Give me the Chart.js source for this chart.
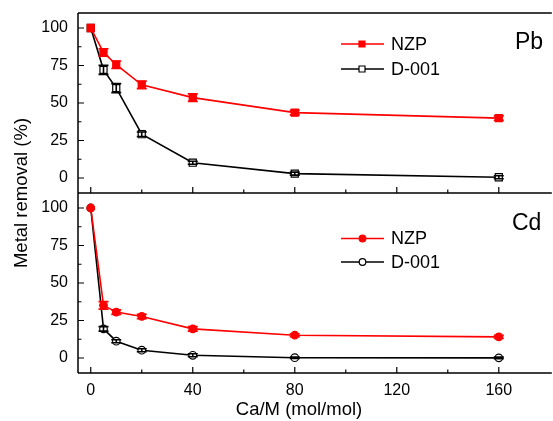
<!DOCTYPE html>
<html><head><meta charset="utf-8">
<script src="https://cdn.jsdelivr.net/npm/chart.js@4/dist/chart.umd.min.js"></script>
<style>html,body{margin:0;padding:0;background:#fff;overflow:hidden;}#wrap{width:556px;height:421px;}</style>
</head><body><div id="wrap"><canvas id="c" width="556" height="421"></canvas></div>
<script>
// ---- data ----
const caM = [0, 5, 10, 20, 40, 80, 160];
const pbNZP = [100, 83.7, 75.5, 62.1, 53.6, 43.6, 39.9];
const pbNZPerr = [0, 2.5, 2.5, 2.5, 2.5, 1.5, 1.5];
const pbD001 = [100, 72.1, 59.9, 29.2, 10.2, 2.9, 0.5];
const pbD001err = [0, 3, 3, 1.5, 1, 1, 1];
const cdNZP = [100, 35.1, 30.6, 27.7, 19.4, 15.2, 14.1];
const cdNZPerr = [0, 2.5, 1.5, 1.5, 1.5, 1, 1];
const cdD001 = [100, 19.4, 11.2, 5.2, 1.8, 0.2, 0.1];
const cdD001err = [0, 1.5, 1, 1, 1, 0.5, 0.5];
const xTicks = [0, 40, 80, 120, 160];
const xMinor = [20, 60, 100, 140];
const yTicks = [0, 25, 50, 75, 100];
const yMinor = [12.5, 37.5, 62.5, 87.5];
const seriesNames = ['NZP', 'D-001'];
const panelNames = ['Pb', 'Cd'];
const xTitle = 'Ca/M (mol/mol)';
const yTitle = 'Metal removal (%)';

const RED = '#ff0000', BLACK = '#000000';
const FONT = '"Liberation Sans", Arial, sans-serif';

function pts(ys) { return caM.map((x, i) => ({x: x, y: ys[i]})); }
function ds(label, ys, errs, axis, color, style, filled) {
  return {
    label: label, data: pts(ys), errs: errs, yAxisID: axis,
    borderColor: color, borderWidth: 1.6, tension: 0,
    pointStyle: style, pointRadius: style === 'rect' ? 5 : 3.8,
    pointBackgroundColor: filled ? color : '#ffffff',
    pointBorderColor: color, pointBorderWidth: 1.2, fill: false
  };
}

const yScale = () => ({
  type: 'linear', stack: 'v', min: -10, max: 110,
  afterBuildTicks: s => { s.ticks = yTicks.map(v => ({value: v})); },
  afterFit: s => { s.width = 78; },
  grid: {display: false}, border: {display: false},
  ticks: {font: {family: FONT, size: 16}, color: '#000', padding: 2}
});

const errPlugin = {
  id: 'errs',
  afterDatasetsDraw(chart) {
    const ctx = chart.ctx, xs = chart.scales.x;
    chart.data.datasets.forEach(d => {
      const ys = chart.scales[d.yAxisID];
      ctx.save();
      ctx.strokeStyle = d.borderColor; ctx.lineWidth = 1.6;
      d.data.forEach((p, i) => {
        const e = d.errs[i]; if (!e) return;
        const px = xs.getPixelForValue(p.x);
        const y1 = ys.getPixelForValue(p.y + e), y2 = ys.getPixelForValue(p.y - e);
        ctx.beginPath();
        ctx.moveTo(px, y1); ctx.lineTo(px, y2);
        ctx.moveTo(px - 5, y1); ctx.lineTo(px + 5, y1);
        ctx.moveTo(px - 5, y2); ctx.lineTo(px + 5, y2);
        ctx.stroke();
      });
      ctx.restore();
    });
  }
};

const framePlugin = {
  id: 'frame',
  afterDraw(chart) {
    const ctx = chart.ctx, a = chart.chartArea, xs = chart.scales.x;
    const sp = chart.scales.yPb, sc = chart.scales.yCd;
    const top = Math.min(sp.top, sc.top), mid = Math.min(sp.bottom, sc.bottom);
    ctx.save();
    ctx.strokeStyle = '#000'; ctx.lineWidth = 1.5;
    ctx.beginPath();
    ctx.moveTo(a.left, top); ctx.lineTo(a.right + 2, top);
    ctx.moveTo(a.left, mid); ctx.lineTo(a.right + 2, mid);
    ctx.moveTo(a.left, a.bottom); ctx.lineTo(a.right + 2, a.bottom);
    ctx.moveTo(a.left, top); ctx.lineTo(a.left, a.bottom);
    ctx.stroke();
    // inward ticks
    ctx.lineWidth = 1.2;
    ctx.beginPath();
    [sp, sc].forEach(s => {
      xTicks.forEach(v => { const px = xs.getPixelForValue(v); ctx.moveTo(px, s.bottom); ctx.lineTo(px, s.bottom - 6); });
      xMinor.forEach(v => { const px = xs.getPixelForValue(v); ctx.moveTo(px, s.bottom); ctx.lineTo(px, s.bottom - 3.5); });
      yTicks.forEach(v => { const py = s.getPixelForValue(v); ctx.moveTo(a.left, py); ctx.lineTo(a.left + 6, py); });
      yMinor.forEach(v => { const py = s.getPixelForValue(v); ctx.moveTo(a.left, py); ctx.lineTo(a.left + 3.5, py); });
    });
    ctx.stroke();
    // legends
    const panels = [[sp, 'rect'], [sc, 'circle']];
    panels.forEach((pp, k) => {
      const s = pp[0], style = pp[1];
      const rows = k === 0 ? [[RED, true, s.top + 31], [BLACK, false, s.top + 56]]
                           : [[RED, true, s.top + 45.5], [BLACK, false, s.top + 69]];
      rows.forEach((r, j) => {
        const y = r[2];
        ctx.strokeStyle = r[0]; ctx.lineWidth = 1.5;
        ctx.beginPath(); ctx.moveTo(341, y); ctx.lineTo(384, y); ctx.stroke();
        ctx.fillStyle = r[1] ? r[0] : '#fff'; ctx.lineWidth = 1.2;
        ctx.beginPath();
        if (style === 'rect') ctx.rect(362 - 3, y - 3, 6, 6); else ctx.arc(362.5, y, 3.3, 0, Math.PI * 2);
        ctx.fill(); ctx.stroke();
        ctx.fillStyle = '#000'; ctx.font = '18px ' + FONT; ctx.textBaseline = 'middle'; ctx.textAlign = 'left';
        ctx.fillText(seriesNames[j], 391, y + 1);
      });
      ctx.font = '23px ' + FONT; ctx.fillStyle = '#000'; ctx.textBaseline = 'middle';
      ctx.fillText(panelNames[k], k === 0 ? 515 : 512, s.top + (k === 0 ? 30 : 31));
    });
    // axis titles
    ctx.font = '18.5px ' + FONT; ctx.textAlign = 'center'; ctx.textBaseline = 'middle';
    ctx.fillText(xTitle, 299, 410);
    ctx.translate(22, 193); ctx.rotate(-Math.PI / 2);
    ctx.fillText(yTitle, 0, 0);
    ctx.restore();
  }
};

new Chart(document.getElementById('c'), {
  type: 'line',
  data: {
    datasets: [
      ds(seriesNames[0], pbNZP, pbNZPerr, 'yPb', RED, 'rect', true),
      ds(seriesNames[1], pbD001, pbD001err, 'yPb', BLACK, 'rect', false),
      ds(seriesNames[0], cdNZP, cdNZPerr, 'yCd', RED, 'circle', true),
      ds(seriesNames[1], cdD001, cdD001err, 'yCd', BLACK, 'circle', false)
    ]
  },
  options: {
    responsive: false, animation: false, devicePixelRatio: 1,
    layout: {padding: {top: 13, right: 2, left: 0, bottom: 0}},
    plugins: {legend: {display: false}, tooltip: {enabled: false}},
    scales: {
      x: {
        type: 'linear', min: -5, max: 180,
        afterBuildTicks: s => { s.ticks = xTicks.map(v => ({value: v})); },
        afterFit: s => { s.height = 48; },
        grid: {display: false}, border: {display: false},
        ticks: {font: {family: FONT, size: 16}, color: '#000', padding: 0}
      },
      yCd: yScale(),
      yPb: yScale()
    }
  },
  plugins: [errPlugin, framePlugin]
});
</script>
</body></html>
